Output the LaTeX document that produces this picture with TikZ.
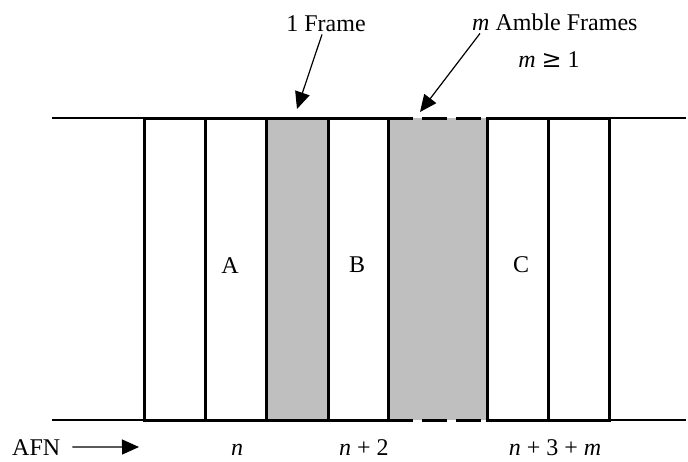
\documentclass[tikz,border=0pt]{standalone}
\usepackage{fontspec}
\setmainfont{Liberation Serif}
\newfontfamily\symfont{DejaVu Serif}
\usetikzlibrary{arrows.meta}
\definecolor{framegray}{gray}{0.75}
\tikzset{
  framebox/.style={draw,line width=3pt},
  ptr/.style={-{Triangle[length=17pt,width=15pt]},line width=1.2pt},
  lbl/.style={font=\fontsize{24}{28}\selectfont,inner sep=0pt,anchor=base}
}
\begin{document}
\begin{tikzpicture}[x=1pt,y=-1pt]
            \useasboundingbox (0,0) rectangle (688,461);

            % frames
            \fill[framegray] (266,118) rectangle (328,420);
            \fill[framegray] (388,118) rectangle (487,420);
            \foreach \a/\b in {144/205,205/266,266/328,328/388,487/548,548/609}
            \draw[framebox] (\a,420) -- (\a,118) -- (\b,118) -- (\b,420) -- cycle;
            \draw[framebox] (388,118) -- (388,420);

            % time axis lines
            \draw[line width=2.4pt] (52,118) -- (144,118);
            \draw[line width=2.4pt] (52,420) -- (144,420);
            \draw[line width=2.4pt] (609,118) -- (686,118);
            \draw[line width=2.4pt] (609,420) -- (686,420);
            \draw[line width=3pt,dash pattern=on 25pt off 9pt] (388,118) -- (487,118);
            \draw[line width=3pt,dash pattern=on 25pt off 9pt] (388,420) -- (487,420);

            \node[lbl] (A) at (230,273) {A};
            \node[lbl] (B) at (357,272) {B};
            \node[lbl] (C) at (521,272) {C};

            \node[lbl] (one) at (326,31) {1 Frame};
            \node[lbl,anchor=base west] (amble) at (472,30) {\textit{m} Amble Frames};
            \node[lbl] (cond) at (549,67) {\textit{m} {\symfont ≥} 1};
            \coordinate (oneTip) at (297,109);
            \coordinate (ambleTip) at (420,112);
            \draw[ptr] ([xshift=-4pt,yshift=-3pt]one.south) -- (oneTip);
            \draw[ptr] ([xshift=8pt,yshift=-3pt]amble.south west) -- (ambleTip);

            \node[lbl,anchor=base west] (afn) at (12,455) {AFN};
            \coordinate (afnTip) at (139,447);
            \draw[ptr] ([xshift=12pt]afn.east) -- (afnTip);

            \node[lbl] (n0) at (237,455) {\textit{n}};
            \node[lbl] (n2) at (364,455) {\textit{n} + 2};
            \node[lbl] (n3) at (555,455) {\textit{n} + 3 + \textit{m}};
        \end{tikzpicture}
\end{document}
